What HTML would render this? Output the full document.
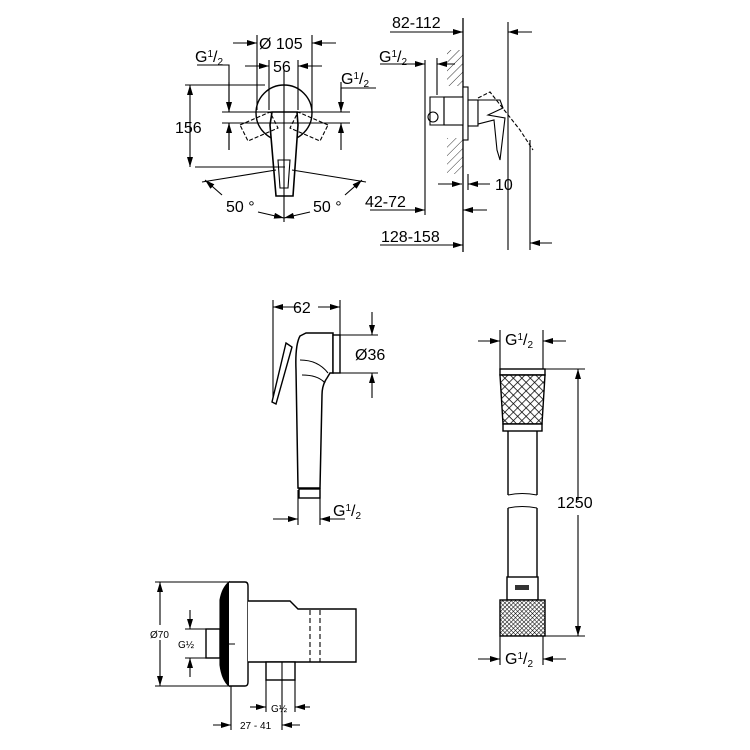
<!DOCTYPE html>
<html><head><meta charset="utf-8"><style>body{margin:0;background:#fff}svg{display:block}text{font-family:"Liberation Sans",sans-serif;fill:#000}</style></head><body>
<svg width="750" height="750" viewBox="0 0 750 750" xmlns="http://www.w3.org/2000/svg">
<defs>
<marker id="a" viewBox="0 0 10 6" refX="10" refY="3" markerWidth="10" markerHeight="6" orient="auto-start-reverse" markerUnits="userSpaceOnUse"><path d="M0,0L10,3L0,6z" fill="#000"/></marker>
<pattern id="k" width="6" height="6" patternUnits="userSpaceOnUse" patternTransform="rotate(45)"><rect width="6" height="6" fill="#fff"/><path d="M0,0H6M0,0V6" stroke="#000" stroke-width="1.5"/></pattern>
<pattern id="k2" width="3" height="3" patternUnits="userSpaceOnUse" patternTransform="rotate(45)"><rect width="3" height="3" fill="#fff"/><path d="M0,0H3M0,0V3" stroke="#000" stroke-width="1.1"/></pattern>
<pattern id="h" width="6" height="6" patternUnits="userSpaceOnUse" patternTransform="rotate(-45)"><path d="M0,0H6" stroke="#000" stroke-width="0.8"/></pattern>
</defs>
<g fill="none" stroke="#000" stroke-width="1.1">
<!-- front view mixer -->
<circle cx="284" cy="113" r="28" stroke-width="1.4"/>
<path d="M272,112 L297,112 L298,125 L293,196 L276,196 L270,125 Z" fill="#fff" stroke-width="1.6"/>
<path d="M278,160 L290,160 L288,188 L280,188 Z"/>
<path d="M240,125 L270,112 L278,128 L248,141 Z" stroke-dasharray="4,2"/>
<path d="M328,125 L298,112 L290,128 L320,141 Z" stroke-dasharray="4,2"/>
<path d="M284,70 V222"/>
<path d="M222,112 H350 M222,123 H350"/>
<path d="M257,35 V110 M312,35 V110 M269,60 V110 M298,60 V110"/>
<path d="M233,43 H257" marker-end="url(#a)"/><path d="M336,43 H312" marker-end="url(#a)"/>
<path d="M245,66 H269" marker-end="url(#a)"/><path d="M322,66 H298" marker-end="url(#a)"/>
<path d="M197,65 H229 V112"/><path d="M229,82 V112" marker-end="url(#a)"/>
<path d="M229,123 V150"/><path d="M229,150 V123" marker-end="url(#a)"/>
<path d="M376,88 H341 V112"/><path d="M341,82 V112" marker-end="url(#a)"/>
<path d="M341,150 V123" marker-end="url(#a)"/>
<path d="M185,85 H265 M195,167 H285"/>
<path d="M190,127 V85" marker-end="url(#a)"/><path d="M190,127 V167" marker-end="url(#a)"/>
<path d="M276,170 L202,182 M292,170 L366,182"/>
<path d="M205,180 L222,195" marker-start="url(#a)"/>
<path d="M362,180 L345,195" marker-start="url(#a)"/>
<path d="M258,212 Q284,218 284,218" marker-end="url(#a)"/><path d="M310,212 Q284,218 284,218" marker-end="url(#a)"/>
<!-- side view -->
<path d="M463,18 V252" stroke-width="1.3"/>
<rect x="447" y="50" width="16" height="36" fill="url(#h)" stroke="none"/>
<rect x="447" y="138" width="16" height="36" fill="url(#h)" stroke="none"/>
<rect x="463" y="87" width="5" height="53" fill="#fff"/>
<rect x="444" y="97" width="19" height="28" fill="#fff"/>
<rect x="468" y="100" width="10" height="26" fill="#fff"/>
<path d="M478,100 H500 L503,108 L488,115 L505,118 L500,160 L497,150 L494,120 L478,124 Z" fill="#fff"/>
<path d="M478,98 L490,92 L520,130 L533,150" stroke-dasharray="4,2"/>
<path d="M430,97 H444 V125 H430 Z"/><circle cx="433" cy="117" r="5"/>
<path d="M508,22 V250 M530,140 V250 M425,60 V215 M437,58 V95"/>
<path d="M390,32 H463" marker-end="url(#a)"/><path d="M532,32 H508" marker-end="url(#a)"/>
<path d="M380,64 H425" marker-end="url(#a)"/><path d="M455,64 H437" marker-end="url(#a)"/>
<path d="M438,184 H462" marker-end="url(#a)"/><path d="M490,184 H468" marker-end="url(#a)"/><path d="M468,174 V190"/>
<path d="M370,210 H425" marker-end="url(#a)"/><path d="M487,210 H463" marker-end="url(#a)"/>
<path d="M380,245 H463" marker-end="url(#a)"/><path d="M552,243 H530" marker-end="url(#a)"/>
<!-- hand shower -->
<path d="M273,300 V400 M340,300 V335"/>
<path d="M300,307 H273" marker-end="url(#a)"/><path d="M318,307 H340" marker-end="url(#a)"/>
<path d="M300,336 L306,333 H333 V373 H330 L327,378 Q322,385 322,395 L320,488 H298 L296,370 Q295,345 300,336 Z" fill="#fff" stroke-width="1.5"/>
<rect x="333" y="335" width="7" height="38" fill="#fff" stroke-width="1.4"/>
<path d="M300,360 Q318,360 328,373 M302,375 Q318,375 325,383"/>
<path d="M286,343 L292,347 L276,404 L272,402 Z" fill="#fff" stroke-width="1.4"/>
<rect x="299" y="489" width="21" height="9" stroke-width="1.4"/>
<path d="M298,490 V525 M320,490 V525"/>
<path d="M273,519 H298" marker-end="url(#a)"/><path d="M345,519 H320" marker-end="url(#a)"/>
<path d="M340,335 H378 M340,373 H378"/>
<path d="M372,312 V335" marker-end="url(#a)"/><path d="M372,398 V373" marker-end="url(#a)"/>
<!-- hose -->
<path d="M500,330 V370 M543,330 V370"/>
<path d="M478,341 H500" marker-end="url(#a)"/><path d="M566,341 H543" marker-end="url(#a)"/>
<rect x="500" y="369" width="45" height="6" fill="#fff" stroke-width="1.4"/>
<path d="M500,375 H545 L542,424 H503 Z" fill="url(#k)" stroke-width="1.4"/>
<rect x="503" y="424" width="39" height="7" fill="#fff" stroke-width="1.4"/>
<path d="M508,431 V495 M537,431 V495 M508,508 V578 M537,508 V578" stroke-width="1.4"/>
<path d="M508,495 Q522,492 537,495 M508,508 Q522,505 537,508"/>
<rect x="507" y="577" width="31" height="23" fill="#fff" stroke-width="1.4"/>
<rect x="515" y="585" width="14" height="5" fill="#333" stroke="none"/>
<rect x="500" y="600" width="45" height="36" fill="url(#k2)" stroke-width="1.4"/>
<path d="M545,369 H585 M545,636 H585"/>
<path d="M578,500 V369" marker-end="url(#a)"/><path d="M578,515 V636" marker-end="url(#a)"/>
<path d="M500,636 V665 M543,636 V665"/>
<path d="M478,659 H500" marker-end="url(#a)"/><path d="M566,659 H543" marker-end="url(#a)"/>
<!-- wall connector -->
<path d="M155,582 H240 M155,686 H240"/>
<path d="M160,625 V582" marker-end="url(#a)"/><path d="M160,640 V686" marker-end="url(#a)"/>
<path d="M229,582 Q222,588 220,600 L220,665 Q222,680 229,686 Z" fill="#000"/>
<path d="M229,582 H245 Q248,582 248,586 V682 Q248,686 245,686 H229" fill="#fff" stroke-width="1.4"/>
<path d="M248,601 H290 L298,609 H356 V662 H248" fill="#fff" stroke-width="1.4"/>
<path d="M310,610 V662 M320,610 V662" stroke-dasharray="5,3"/>
<rect x="206" y="629" width="14" height="29" fill="#fff" stroke-width="1.4"/>
<path d="M185,629 H206 M185,658 H206 M220,644 H235"/>
<path d="M190,610 V629" marker-end="url(#a)"/><path d="M190,677 V658" marker-end="url(#a)"/>
<rect x="266" y="662" width="29" height="18" fill="#fff" stroke-width="1.4"/>
<path d="M266,680 V712 M295,680 V712 M282,662 V730 M231,686 V730"/>
<path d="M250,707 H266" marker-end="url(#a)"/><path d="M310,707 H295" marker-end="url(#a)"/>
<path d="M213,725 H231" marker-end="url(#a)"/><path d="M300,725 H282" marker-end="url(#a)"/>
</g>
<g font-size="16">
<text x="259" y="49">Ø 105</text>
<text x="273" y="72">56</text>
<text x="195" y="62">G<tspan font-size="10" dy="-5">1</tspan><tspan dy="5">/</tspan><tspan font-size="10" dy="3">2</tspan></text>
<text x="341" y="84">G<tspan font-size="10" dy="-5">1</tspan><tspan dy="5">/</tspan><tspan font-size="10" dy="3">2</tspan></text>
<text x="175" y="133">156</text>
<text x="226" y="212">50 °</text>
<text x="313" y="212">50 °</text>
<text x="392" y="28">82-112</text>
<text x="379" y="62">G<tspan font-size="10" dy="-5">1</tspan><tspan dy="5">/</tspan><tspan font-size="10" dy="3">2</tspan></text>
<text x="495" y="190">10</text>
<text x="365" y="207">42-72</text>
<text x="381" y="242">128-158</text>
<text x="293" y="313">62</text>
<text x="355" y="360">Ø36</text>
<text x="333" y="516">G<tspan font-size="10" dy="-5">1</tspan><tspan dy="5">/</tspan><tspan font-size="10" dy="3">2</tspan></text>
<text x="505" y="345">G<tspan font-size="10" dy="-5">1</tspan><tspan dy="5">/</tspan><tspan font-size="10" dy="3">2</tspan></text>
<text x="557" y="508">1250</text>
<text x="505" y="664">G<tspan font-size="10" dy="-5">1</tspan><tspan dy="5">/</tspan><tspan font-size="10" dy="3">2</tspan></text>
</g>
<g font-size="10">
<text x="150" y="638">Ø70</text>
<text x="178" y="648">G½</text>
<text x="271" y="712">G½</text>
<text x="240" y="729">27 - 41</text>
</g>
</svg>
</body></html>
